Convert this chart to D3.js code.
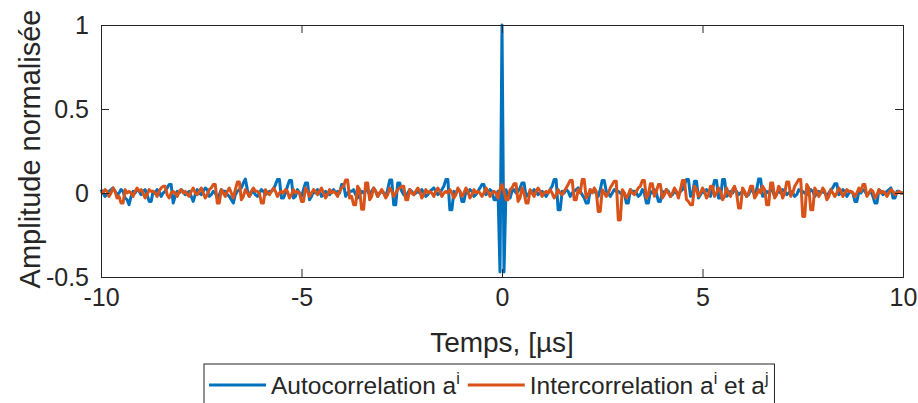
<!DOCTYPE html>
<html>
<head>
<meta charset="utf-8">
<script src="https://cdn.jsdelivr.net/npm/d3@7/dist/d3.min.js"></script>
<style>
  html, body { margin: 0; padding: 0; background: #fff; }
  svg { display: block; }
  text { font-family: "Liberation Sans", Arial, Helvetica, sans-serif; fill: #262626; }
</style>
</head>
<body>
<svg id="chart" width="918" height="403"></svg>
<script>
// ---- data (time axis: -10 .. 10 µs, sample step 0.05 µs, 401 samples) ----
const tStart = -10;
const tStep = 0.05;

// Autocorrelation of a^i (one row = 1 µs)
const autoCorr = [
  0.02, 0.0, -0.02, -0.01, 0.01, 0.02, 0.03, 0.01, -0.01, 0.0, 0.02, 0.01, -0.03, -0.04, -0.07, -0.02, 0.01, 0.0, 0.02, 0.01,
  -0.01, 0.01, 0.02, -0.01, -0.05, -0.05, 0.01, 0.0, 0.02, 0.01, -0.02, 0.0, 0.01, 0.03, 0.05, 0.05, -0.06, -0.02, 0.01, 0.0,
  0.02, 0.01, -0.01, 0.0, 0.01, -0.02, -0.05, -0.01, 0.02, 0.0, -0.01, 0.01, 0.03, 0.02, -0.02, -0.01, 0.01, 0.0, -0.03, -0.01,
  0.02, 0.01, 0.01, -0.01, -0.02, -0.04, -0.06, -0.01, 0.01, 0.02, 0.03, 0.06, 0.083, 0.02, -0.02, 0.0, 0.01, -0.01, -0.02, 0.0,
  0.02, 0.01, -0.01, 0.0, 0.01, 0.01, 0.02, 0.05, 0.08, 0.08, -0.03, -0.03, 0.0, 0.04, 0.075, 0.075, -0.03, -0.02, 0.02, 0.0,
  -0.02, 0.02, 0.06, 0.06, -0.04, -0.02, 0.01, 0.0, 0.02, 0.01, -0.02, -0.01, 0.01, 0.0, -0.01, 0.01, 0.02, 0.0, 0.01, 0.0,
  0.05, 0.05, -0.02, 0.0, 0.01, 0.01, 0.02, -0.01, -0.03, -0.01, 0.01, 0.0, 0.02, 0.01, -0.01, 0.01, 0.03, 0.01, -0.02, 0.0,
  0.01, 0.0, -0.02, 0.02, 0.077, 0.077, -0.07, -0.07, 0.06, 0.06, 0.01, -0.01, -0.02, 0.0, 0.02, 0.01, -0.01, 0.0, 0.01, 0.0,
  0.02, 0.0, -0.02, -0.01, 0.01, 0.02, 0.03, 0.01, -0.01, 0.0, 0.02, 0.04, 0.08, 0.08, -0.1, -0.1, 0.01, 0.0, 0.02, 0.01,
  -0.05, -0.05, 0.01, 0.0, 0.02, 0.01, -0.02, -0.01, 0.01, 0.03, 0.05, 0.05, -0.01, 0.0, 0.02, 0.01, -0.04, -0.04, 0.01, -0.47,
  1.0, -0.47, 0.02, -0.03, -0.03, 0.01, 0.02, 0.0, 0.01, 0.03, 0.06, 0.06, -0.02, -0.01, 0.01, 0.0, 0.02, 0.01, -0.01, 0.0,
  0.01, 0.0, -0.02, 0.0, 0.02, 0.04, 0.08, 0.08, -0.1, -0.1, 0.01, 0.0, 0.02, 0.01, -0.02, 0.0, 0.01, 0.02, 0.03, 0.01,
  -0.01, -0.03, -0.06, -0.06, 0.02, 0.01, 0.01, 0.0, -0.02, 0.02, 0.075, 0.075, 0.01, 0.0, -0.02, 0.0, 0.02, 0.01, 0.01, 0.0,
  -0.01, 0.0, -0.06, -0.06, 0.02, 0.01, 0.01, 0.0, -0.02, -0.01, 0.02, 0.0, -0.06, -0.06, 0.01, 0.0, 0.02, 0.0, -0.05, -0.05,
  0.01, 0.0, 0.02, 0.01, -0.02, -0.01, 0.01, 0.0, -0.01, 0.01, 0.02, 0.05, 0.08, 0.08, -0.02, -0.01, 0.07, 0.07, -0.03, -0.01,
  0.01, 0.0, 0.02, 0.01, -0.02, 0.02, 0.075, 0.075, -0.03, -0.03, 0.08, 0.08, -0.02, -0.01, 0.01, 0.0, 0.02, 0.01, -0.01, 0.0,
  0.01, 0.0, -0.02, -0.01, 0.02, 0.01, -0.01, 0.02, 0.083, 0.083, -0.02, -0.01, 0.01, 0.0, 0.02, 0.01, -0.02, 0.0, 0.01, 0.0,
  0.02, 0.01, -0.01, 0.0, 0.01, 0.0, -0.02, -0.01, 0.02, 0.01, 0.01, 0.0, -0.01, 0.0, 0.02, 0.01, -0.02, 0.0, 0.01, 0.0,
  0.01, 0.0, -0.02, 0.0, 0.02, 0.03, 0.055, 0.055, -0.01, 0.0, 0.02, 0.01, -0.02, 0.0, 0.01, 0.0, -0.05, -0.05, 0.01, 0.0,
  0.02, 0.01, -0.01, 0.0, 0.01, -0.02, -0.06, -0.06, 0.02, 0.01, -0.01, 0.0, 0.01, 0.02, 0.03, -0.03, -0.03, 0.01, 0.01, 0.0,
  0.0
];

// Intercorrelation of a^i and a^j (one row = 1 µs)
const interCorr = [
  0.01, 0.0, 0.02, 0.01, -0.02, 0.0, 0.03, 0.01, -0.03, -0.02, -0.06, -0.06, 0.02, 0.0, 0.01, 0.0, -0.02, 0.01, 0.03, 0.01,
  0.02, 0.0, -0.03, -0.01, 0.02, 0.01, 0.01, 0.0, -0.02, 0.01, 0.03, 0.04, 0.04, -0.01, -0.03, 0.0, 0.01, 0.0, -0.02, 0.01,
  0.02, 0.0, 0.01, -0.01, -0.02, 0.01, 0.03, 0.0, -0.01, 0.01, 0.03, 0.0, -0.03, -0.01, 0.02, 0.03, 0.05, 0.05, -0.06, -0.06,
  0.02, 0.0, -0.02, 0.01, 0.03, 0.0, -0.03, 0.02, 0.065, 0.065, -0.04, -0.02, 0.02, 0.0, -0.02, 0.01, 0.03, 0.01, 0.01, 0.0,
  -0.06, -0.06, 0.02, 0.0, -0.01, 0.01, 0.03, 0.01, -0.02, 0.0, 0.01, 0.0, 0.02, 0.01, -0.03, -0.01, 0.02, 0.0, 0.01, 0.0,
  -0.05, -0.05, 0.03, 0.01, -0.02, 0.0, 0.02, 0.01, -0.01, 0.01, 0.03, 0.0, -0.03, -0.01, 0.02, 0.0, 0.01, 0.0, -0.02, 0.01,
  0.03, 0.04, 0.077, 0.077, -0.03, -0.02, -0.07, -0.07, 0.04, 0.02, -0.097, -0.097, 0.06, 0.06, -0.04, -0.02, 0.03, 0.01, -0.02, 0.0,
  0.02, 0.0, -0.03, -0.01, 0.03, 0.01, -0.02, 0.0, 0.02, 0.03, 0.04, 0.04, -0.04, -0.04, 0.02, 0.0, -0.01, 0.01, 0.03, 0.01,
  -0.03, -0.01, 0.02, 0.0, 0.01, 0.0, -0.02, 0.01, 0.03, 0.01, -0.02, 0.0, 0.01, 0.0, 0.02, 0.0, -0.03, -0.01, 0.03, 0.01,
  -0.02, 0.0, 0.03, 0.01, -0.03, -0.01, 0.02, 0.0, 0.01, 0.0, -0.02, 0.0, 0.03, 0.01, -0.02, 0.0, 0.01, 0.0, -0.03, 0.02,
  0.05, 0.01, -0.04, -0.04, 0.02, 0.03, 0.055, 0.055, -0.05, -0.03, 0.03, 0.0, -0.06, -0.06, 0.02, 0.0, -0.02, 0.01, 0.03, 0.01,
  -0.02, 0.0, 0.01, 0.0, 0.02, 0.0, -0.03, -0.01, 0.02, 0.0, -0.01, 0.01, 0.03, 0.05, 0.075, 0.075, -0.04, -0.04, 0.02, 0.0,
  0.08, 0.08, -0.03, -0.01, 0.02, 0.0, 0.03, 0.01, -0.11, -0.11, 0.02, 0.0, -0.02, 0.0, 0.03, 0.05, 0.07, 0.07, -0.16, -0.16,
  0.02, 0.0, -0.03, -0.01, 0.02, 0.0, -0.01, 0.01, 0.03, 0.04, 0.075, 0.075, -0.03, -0.01, 0.055, 0.055, -0.02, 0.01, 0.05, 0.05,
  -0.03, -0.01, 0.02, 0.0, -0.02, 0.0, 0.03, 0.01, -0.03, 0.02, 0.075, 0.075, -0.04, -0.05, -0.07, -0.07, 0.04, 0.02, -0.02, 0.0,
  0.03, 0.01, -0.03, -0.01, 0.04, 0.04, -0.02, 0.0, 0.03, 0.01, -0.04, -0.02, 0.03, 0.0, -0.02, 0.02, 0.04, 0.0, -0.09, -0.09,
  0.03, 0.01, -0.02, 0.0, 0.04, 0.04, -0.03, -0.01, 0.02, 0.0, 0.04, 0.02, -0.07, -0.07, 0.06, 0.06, -0.03, -0.01, 0.04, 0.02,
  -0.03, 0.0, 0.065, 0.065, -0.02, 0.0, 0.04, 0.06, 0.08, 0.08, -0.14, -0.14, 0.05, 0.03, -0.10, -0.10, 0.03, 0.01, -0.02, 0.0,
  0.03, 0.01, -0.04, -0.02, 0.02, 0.0, -0.02, 0.0, 0.03, 0.01, -0.02, 0.0, 0.02, 0.01, 0.01, 0.0, -0.02, 0.0, 0.03, 0.01,
  0.05, 0.05, -0.02, 0.0, 0.02, 0.01, -0.03, -0.01, 0.02, 0.0, 0.01, 0.0, -0.02, 0.0, 0.02, 0.01, -0.01, 0.0, 0.01, 0.0,
  0.0
];

const xTicks = [-10, -5, 0, 5, 10];
const yTicks = [-0.5, 0, 0.5, 1];
const xLabel = "Temps, [µs]";
const yLabel = "Amplitude normalisée";
const legendItems = [
  { base: "Autocorrelation a", parts: [["i", true]], color: "#0072BD" },
  { base: "Intercorrelation a", parts: [["i", true], [" et a", false], ["j", true]], color: "#D95319" }
];

// ---- layout ----
const svg = d3.select("#chart");
const L = 101, R = 903, T = 25, B = 277;
const x = d3.scaleLinear().domain([-10, 10]).range([L, R]);
const y = d3.scaleLinear().domain([-0.5, 1]).range([B, T]);
const axisColor = "#262626";
const tickLen = 8;

// lines
const line = d3.line()
  .x((d, i) => x(tStart + i * tStep)).y(d => y(d));
const plot = svg.append("g");
plot.append("path").datum(autoCorr)
  .attr("d", line).attr("fill", "none")
  .attr("stroke", "#0072BD").attr("stroke-width", 3).attr("stroke-linejoin", "round");
plot.append("path").datum(interCorr)
  .attr("d", line).attr("fill", "none")
  .attr("stroke", "#D95319").attr("stroke-width", 3).attr("stroke-linejoin", "round");

// axes (inward ticks, box)
const fmt = d => String(d);
const xAxisB = d3.axisBottom(x).tickValues(xTicks).tickSize(-tickLen).tickPadding(11).tickFormat(fmt);
const xAxisT = d3.axisTop(x).tickValues(xTicks).tickSize(-tickLen).tickFormat("");
const yAxisL = d3.axisLeft(y).tickValues(yTicks).tickSize(-tickLen).tickPadding(12).tickFormat(fmt);
const yAxisR = d3.axisRight(y).tickValues(yTicks).tickSize(-tickLen).tickFormat("");

function style(g) {
  g.select(".domain").attr("stroke", axisColor).attr("stroke-width", 1);
  g.selectAll(".tick line").attr("stroke", axisColor).attr("stroke-width", 1);
  g.selectAll(".tick text").attr("fill", axisColor).style("font-size", "25px")
    .style("font-family", '"Liberation Sans", Arial, sans-serif');
}
svg.append("g").attr("transform", `translate(0,${B})`).call(xAxisB).call(style);
svg.append("g").attr("transform", `translate(0,${T})`).call(xAxisT).call(style);
svg.append("g").attr("transform", `translate(${L},0)`).call(yAxisL).call(style);
svg.append("g").attr("transform", `translate(${R},0)`).call(yAxisR).call(style);

// axis titles
svg.append("text").attr("x", (L + R) / 2).attr("y", 352)
  .attr("text-anchor", "middle").style("font-size", "28px").text(xLabel);
svg.append("text").attr("transform", `translate(40,${(T + B) / 2 - 2}) rotate(-90)`)
  .attr("text-anchor", "middle").style("font-size", "29px").text(yLabel);

// legend
const lg = svg.append("g");
const lgBox = lg.append("rect").attr("fill", "#fff").attr("stroke", axisColor).attr("stroke-width", 1);
let cx = 209;
const lgY = 385;
legendItems.forEach(item => {
  lg.append("line").attr("x1", cx).attr("x2", cx + 57).attr("y1", lgY).attr("y2", lgY)
    .attr("stroke", item.color).attr("stroke-width", 3);
  cx += 62;
  const t = lg.append("text").attr("x", cx).attr("y", lgY + 9).style("font-size", "24.5px");
  t.append("tspan").text(item.base);
  item.parts.forEach(([s, sup]) => {
    if (sup) t.append("tspan").attr("dy", -10).style("font-size", "16px").text(s);
    else t.append("tspan").attr("dy", 10).text(s);
  });
  const w = t.node().getComputedTextLength();
  cx += w + 8;
});
lgBox.attr("x", 204).attr("y", 364).attr("width", cx - 204 - 2).attr("height", 50);
</script>
</body>
</html>
